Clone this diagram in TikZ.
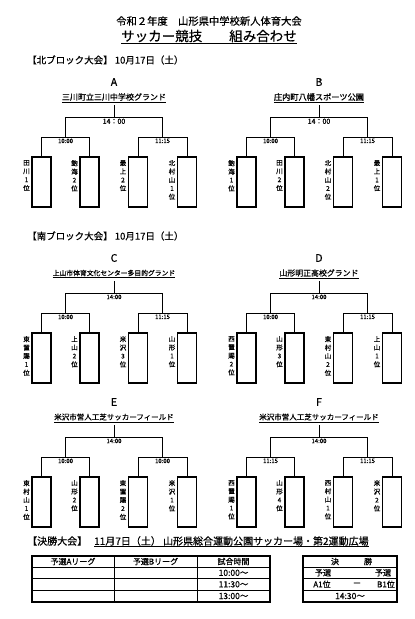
\documentclass[tikz,border=0pt]{standalone}
\usepackage{fontspec}
\setmainfont{Noto Sans CJK JP}[FakeBold=0.6]
\tikzset{
 ln/.style={line width=1pt},
 teambox/.style={draw, line width=1.4pt, minimum width=19pt, minimum height=50pt, inner sep=0pt},
 tm/.style={font=\fontsize{6}{7}\selectfont, inner sep=0.5pt, anchor=north},
 tmbig/.style={font=\fontsize{7}{8}\selectfont, inner sep=0.5pt, anchor=north},
 team/.style={font=\fontsize{6.5}{8.4}\selectfont, align=center, inner sep=0pt, anchor=north},
 letterlbl/.style={font=\fontsize{10.5}{12}\selectfont, inner sep=0pt},
 venuelbl/.style={inner sep=0pt},
 cell/.style={font=\fontsize{8}{9}\selectfont, inner sep=0pt},
}
\newcommand\myhead[3]{%
 \node[letterlbl] (#1-let) at (114,0) {#1};
 \node[venuelbl, font=\fontsize{#3}{#3}\selectfont] (#1-ven) at (114,15) {#2};
 \draw[line width=0.7pt] ([yshift=-2pt]#1-ven.base west) -- ([yshift=-2pt]#1-ven.base east);
}
\newcommand\mybrk[5]{%
 \coordinate (#1-s) at (114,23);
 \coordinate (#1-m) at (114,35);
 \coordinate (#1-L) at (65.5,35);
 \coordinate (#1-R) at (162.5,35);
 \coordinate (#1-Ld) at (65.5,55);
 \coordinate (#1-Rd) at (162.5,55);
 \coordinate (#1-p1) at (41.5,55);
 \coordinate (#1-p2) at (89.5,55);
 \coordinate (#1-p3) at (138,55);
 \coordinate (#1-p4) at (187,55);
 \node[teambox] (#1-b1) at (41.5,100) {};
 \node[teambox] (#1-b2) at (89.5,100) {};
 \node[teambox] (#1-b3) at (138,100) {};
 \node[teambox] (#1-b4) at (187,100) {};
 \draw[ln] (#1-s) -- (#1-m);
 \draw[ln] (#1-Ld) -- (#1-L) -- (#1-R) -- (#1-Rd);
 \draw[ln] (#1-b1.north) -- (#1-p1) -- (#1-p2) -- (#1-b2.north);
 \draw[ln] (#1-b3.north) -- (#1-p3) -- (#1-p4) -- (#1-b4.north);
 \node[#5] (#1-t0) at (114,36) {#2};
 \node[tm] (#1-t1) at (65.5,56) {#3};
 \node[tm] (#1-t2) at (162.5,56) {#4};
}
\newcommand\myteams[5]{%
 \node[team] (#1-n1) at (26.5,78) {#2};
 \node[team] (#1-n2) at (74.5,78) {#3};
 \node[team] (#1-n3) at (123,78) {#4};
 \node[team] (#1-n4) at (172,78) {#5};
}
\begin{document}
\begin{tikzpicture}[x=1pt,y=-1pt]
\useasboundingbox[fill=white] (0,0) rectangle (415,619);
% titles
\node[font=\fontsize{10.3}{12}\selectfont, inner sep=0pt] (title1) at (209,21) {令和２年度　山形県中学校新人体育大会};
\node[font=\fontsize{13.5}{15}\selectfont, inner sep=0pt] (title2) at (209,36) {サッカー競技　　組み合わせ};
\draw[line width=1.3pt] ([yshift=-2.5pt]title2.base west) -- ([yshift=-2.5pt]title2.base east);
\node[anchor=west, font=\fontsize{9.5}{11}\selectfont, inner sep=0pt] (hN) at (27,60) {【北ブロック大会】 10月17日（土）};
\node[anchor=west, font=\fontsize{9.5}{11}\selectfont, inner sep=0pt] (hS) at (27,236) {【南ブロック大会】 10月17日（土）};
% A
\begin{scope}[shift={(0,82)}]
 \myhead{A}{三川町立三川中学校グランド}{8}
 \mybrk{A}{14：00}{10:00}{11:15}{tmbig}
 \myteams{A}{田\\川\\1\\位}{飽\\海\\2\\位}{最\\上\\2\\位}{北\\村\\山\\1\\位}
\end{scope}
% B
\begin{scope}[shift={(205,82)}]
 \myhead{B}{庄内町八幡スポーツ公園}{8.2}
 \mybrk{B}{14：00}{10:00}{11:15}{tmbig}
 \myteams{B}{飽\\海\\1\\位}{田\\川\\2\\位}{北\\村\\山\\2\\位}{最\\上\\1\\位}
\end{scope}
% C
\begin{scope}[shift={(0,258)}]
 \myhead{C}{上山市体育文化センター多目的グランド}{6.8}
 \mybrk{C}{14:00}{10:00}{11:15}{tm}
 \myteams{C}{東\\置\\賜\\1\\位}{上\\山\\2\\位}{米\\沢\\3\\位}{山\\形\\1\\位}
\end{scope}
% D
\begin{scope}[shift={(205,258)}]
 \myhead{D}{山形明正高校グランド}{7.9}
 \mybrk{D}{14:00}{10:00}{11:15}{tm}
 \myteams{D}{西\\置\\賜\\2\\位}{山\\形\\3\\位}{東\\村\\山\\2\\位}{上\\山\\1\\位}
\end{scope}
% E
\begin{scope}[shift={(0,402)}]
 \myhead{E}{米沢市営人工芝サッカーフィールド}{7.5}
 \mybrk{E}{14:00}{10:00}{10:00}{tm}
 \myteams{E}{東\\村\\山\\1\\位}{山\\形\\2\\位}{東\\置\\賜\\2\\位}{米\\沢\\1\\位}
\end{scope}
% F
\begin{scope}[shift={(205,402)}]
 \myhead{F}{米沢市営人工芝サッカーフィールド}{7.5}
 \mybrk{F}{14:00}{11:15}{11:15}{tm}
 \myteams{F}{西\\置\\賜\\1\\位}{山\\形\\4\\位}{西\\村\\山\\1\\位}{米\\沢\\2\\位}
\end{scope}
% final
\node[anchor=west, font=\fontsize{10}{12}\selectfont, inner sep=0pt] (f1) at (27,541) {【決勝大会】};
\node[anchor=west, font=\fontsize{10}{12}\selectfont, inner sep=0pt] (f2) at (94,541) {11月7日（土） 山形県総合運動公園サッカー場・第2運動広場};
\draw[line width=0.8pt] ([yshift=-2pt]f2.base west) -- ([yshift=-2pt]f2.base east);
% table
\draw[line width=0.8pt] (32,567) -- (270,567) (32,578.5) -- (270,578.5) (32,590) -- (270,590)
  (114,556) -- (114,602) (197,556) -- (197,602);
\draw[line width=1.8pt] (32,556) rectangle (270,602);
\node[cell] (c1) at (73,561.5) {予選Aリーグ};
\node[cell] (c2) at (155.5,561.5) {予選Bリーグ};
\node[cell] (c3) at (233.5,561.5) {試合時間};
\node[cell, font=\fontsize{8.5}{9}\selectfont] (r1) at (233.5,572.8) {10:00～};
\node[cell, font=\fontsize{8.5}{9}\selectfont] (r2) at (233.5,584.3) {11:30～};
\node[cell, font=\fontsize{8.5}{9}\selectfont] (r3) at (233.5,596) {13:00～};
% final table
\draw[line width=0.8pt] (303,567) -- (397,567) (303,578.5) -- (397,578.5) (303,590) -- (397,590);
\draw[line width=1.8pt] (303,556) rectangle (397,602);
\node[cell] (k1) at (335,561.5) {決};
\node[cell] (k2) at (368,561.5) {勝};
\node[cell] (k3) at (323,572.8) {予選};
\node[cell] (k4) at (383,572.8) {予選};
\node[cell] (k5) at (322,584.3) {A1位};
\node[cell] (k6) at (357,584.3) {ー};
\node[cell] (k7) at (386,584.3) {B1位};
\node[cell, font=\fontsize{8.5}{9}\selectfont] (k8) at (350,596) {14:30～};
\end{tikzpicture}
\end{document}
